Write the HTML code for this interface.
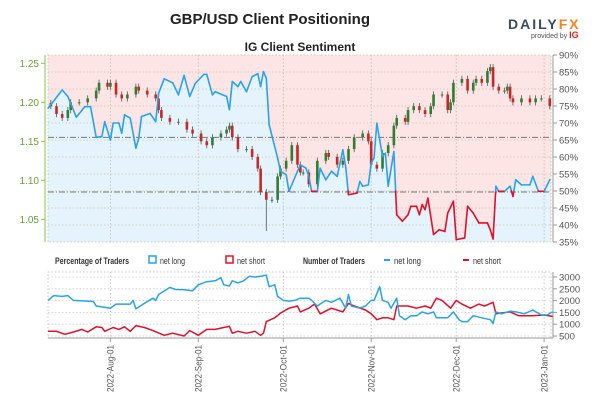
<!DOCTYPE html>
<html><head><meta charset="utf-8"><style>
html,body{margin:0;padding:0;background:#fff;}
svg{display:block;font-family:"Liberation Sans",sans-serif;}
</style></head><body>
<svg id="c" width="602" height="401" viewBox="0 0 602 401" xmlns="http://www.w3.org/2000/svg">
<text x="270" y="24" text-anchor="middle" font-size="15" font-weight="bold" fill="#222">GBP/USD Client Positioning</text>
<text x="300" y="51" text-anchor="middle" font-size="12" font-weight="bold" fill="#222">IG Client Sentiment</text>
<g>
<text x="508" y="29" font-size="14" font-weight="bold" letter-spacing="2" fill="#3c4a5a">DAILY<tspan fill="#f58220">FX</tspan></text>
<text x="531" y="38" font-size="7" fill="#555">provided by <tspan fill="#e2231a" font-weight="bold" font-size="9">IG</tspan></text>
</g>
<g id="main"></g>
<g id="count"></g>
<g font-size="9" fill="#333">
<text x="55" y="264" font-weight="bold" textLength="74" lengthAdjust="spacingAndGlyphs">Percentage of Traders</text>
<rect x="149" y="256" width="7" height="7" fill="#fff" stroke="#29a3e8" stroke-width="1.5"/>
<text x="160" y="264" textLength="25" lengthAdjust="spacingAndGlyphs">net long</text>
<rect x="226" y="256" width="7" height="7" fill="#fff" stroke="#e0102a" stroke-width="1.5"/>
<text x="237" y="264" textLength="28" lengthAdjust="spacingAndGlyphs">net short</text>
<text x="303" y="264" font-weight="bold" textLength="62" lengthAdjust="spacingAndGlyphs">Number of Traders</text>
<line x1="384" y1="260" x2="390" y2="260" stroke="#29a3e8" stroke-width="2"/>
<text x="394" y="264" textLength="27" lengthAdjust="spacingAndGlyphs">net long</text>
<line x1="463" y1="260" x2="469" y2="260" stroke="#e0102a" stroke-width="2"/>
<text x="473" y="264" textLength="28" lengthAdjust="spacingAndGlyphs">net short</text>
</g>
</svg>
<script>
// ---- data (x values = days since 2022-07-10) ----
const candleDays=[1,3,5,7,8,11,14,17,18,21,22,24,26,28,31,32,35,38,39,40,43,46,49,51,54,56,58,61,63,64,65,67,70,72,74,75,77,79,81,82,84,86,88,89,90,92,95,98,99,102,104,106,108,111,113,114,116,118,120,122,123,126,127,129,131,133,135,136,139,141,142,143,146,148,150,151,153,155,156,157,159,161,162,163,164,167,170,172,174,177];
const candleClose=[1.195,1.185,1.18,1.19,1.20,1.20,1.205,1.215,1.225,1.22,1.225,1.21,1.205,1.21,1.22,1.215,1.21,1.205,1.19,1.18,1.175,1.175,1.165,1.16,1.15,1.145,1.155,1.16,1.165,1.17,1.155,1.14,1.14,1.13,1.115,1.085,1.075,1.075,1.105,1.115,1.125,1.145,1.12,1.11,1.11,1.095,1.125,1.135,1.13,1.12,1.125,1.14,1.155,1.16,1.15,1.12,1.115,1.135,1.145,1.17,1.18,1.175,1.19,1.195,1.19,1.185,1.195,1.21,1.21,1.19,1.20,1.225,1.23,1.215,1.225,1.23,1.225,1.24,1.245,1.22,1.215,1.215,1.22,1.205,1.20,1.205,1.20,1.205,1.205,1.195];
const sentDays=[0,5,7,10,13,15,17,19,20,22,23,25,26,27,29,31,32,33,36,38,39,41,44,46,48,50,52,55,56,58,59,63,64,65,67,68,70,72,74,75,76,77,78,81,82,84,85,88,89,91,92,93,95,96,98,100,102,104,105,106,109,110,111,113,114,115,116,118,119,120,122,123,125,127,128,130,131,132,133,134,136,138,140,141,143,144,147,148,150,152,155,156,157,158,159,161,163,164,165,167,170,171,173,175,177];
const sentLong=[74.3,79.7,77.8,71.7,74.8,74.8,65.8,66,70.4,65,70,70,67,72.4,71.4,62.6,65.5,71.9,72.8,70.4,78.7,83,81.8,78.3,84,77.8,81.7,84.3,84.3,78.3,79.2,77.8,73.9,82.2,80.7,82.2,79.2,83.6,84.5,80.7,85.1,83.2,69.5,59.7,55.8,54.8,49.9,55.8,57.7,56.7,54.3,49.9,49.9,56.7,53.3,55.8,54.3,62.1,57.2,48.9,49.4,52.8,51.4,51.8,58.2,59.7,69.9,60.2,61.1,51.4,61.6,43,41.1,43,45.5,45.5,43,46,44.5,47.9,37.2,38.6,38.1,43.5,47,35.7,36.2,45.5,43.5,40.6,40.6,38.6,35.9,51.4,49.9,49.9,51.4,48.4,53.3,51.8,51.8,54.3,49.9,49.9,53.3];
const longDays=[0,2,5,7,9,16,17,22,24,29,30,31,34,37,38,39,43,45,48,51,53,56,59,61,62,64,65,67,69,71,73,75,77,78,80,81,83,85,87,89,92,93,95,98,100,103,105,106,107,110,112,114,115,117,118,120,121,123,124,126,128,130,132,134,136,137,141,143,145,146,148,150,153,156,157,158,160,163,165,168,171,174,176,178];
const longCount=[2010,2210,2180,2210,2010,1960,1770,1680,1850,1850,2010,1650,1880,2100,2010,2260,2560,2470,2460,2420,2670,2800,2840,2970,2670,2620,2840,2750,2840,3030,3000,3030,3080,2590,2670,2180,2010,1980,2010,2100,2100,2010,1770,2010,1930,2100,1680,2260,1770,1680,1770,2010,2010,2590,2010,1930,1680,2100,1360,1190,1360,1360,1520,1440,1520,1270,1270,1520,1190,1110,1110,1360,1270,1190,1030,1520,1440,1550,1520,1440,1600,1390,1390,1520];
const shortDays=[0,3,6,9,12,14,17,19,20,23,25,27,29,31,34,37,41,44,48,50,53,56,59,62,64,65,67,70,73,75,76,77,80,82,85,88,89,92,94,96,100,104,106,108,112,114,116,118,120,122,123,127,130,133,135,137,139,142,144,146,149,152,154,157,158,163,166,171,175,178];
const shortCount=[700,700,570,670,780,670,890,860,700,860,780,890,700,940,860,730,530,620,500,730,530,780,780,860,910,620,700,620,700,530,620,1110,1270,1470,1680,1770,1520,1680,1850,1440,1680,1520,1880,1770,1600,1440,1190,1270,1270,1190,1770,1770,1680,1770,1680,2100,2010,1680,2010,1850,1680,1850,1770,1930,1440,1520,1360,1360,1390,1330];
const priceTicks=[1.05,1.10,1.15,1.20,1.25];
const pctTicks=[35,40,45,50,55,60,65,70,75,80,85,90];
const countTicks=[500,1000,1500,2000,2500,3000];
const monthDays=[22,53,83,114,144,175];
const monthLabels=["2022-Aug-01","2022-Sep-01","2022-Oct-01","2022-Nov-01","2022-Dec-01","2023-Jan-01"];
const refPrices=[1.155,1.085];

// ---- scales ----
const X0=48,X1=551;
const xS=d=>X0+d*2.835;
const yP=p=>63.3+(1.25-p)*780;
const yPct=v=>55+(90-v)*3.4;
const yC=v=>277+(3000-v)*11.8/500;
const NS="http://www.w3.org/2000/svg";
function mk(parent,tag,attrs){const e=document.createElementNS(NS,tag);for(const k in attrs)e.setAttribute(k,attrs[k]);parent.appendChild(e);return e;}
const main=document.getElementById('main'),cnt=document.getElementById('count');
const PT=55,PB=242;

let bg=mk(main,'rect',{x:X0,y:PT,width:X1-X0,height:PB-PT,fill:'#fde4e5'});


let area='M'+xS(sentDays[0])+','+PB;
sentDays.forEach((d,i)=>area+=' L'+xS(d).toFixed(1)+','+yPct(sentLong[i]).toFixed(1));
area+=' L'+xS(sentDays[sentDays.length-1])+','+PB+' Z';
let ar=mk(main,'path',{d:area,fill:'#e4f3fc'});



pctTicks.forEach(t=>{if(t===35||t===90)return;const y=yPct(t);mk(main,'line',{x1:X0,x2:X1,y1:y,y2:y,stroke:'#c8c8b0','stroke-width':0.8,'stroke-dasharray':'1.5,2'});});
monthDays.forEach(d=>{const x=xS(d);mk(main,'line',{x1:x,x2:x,y1:PT,y2:PB,stroke:'#bbb','stroke-width':0.8,'stroke-dasharray':'1.5,2'});});
mk(main,'rect',{x:X0,y:PT,width:X1-X0,height:PB-PT,fill:'none',stroke:'#b8c8a0','stroke-width':0.8,'stroke-dasharray':'1.5,2'});
refPrices.forEach((p,i)=>{const y=yP(p);let l=mk(main,'line',{x1:X0,x2:X1,y1:y,y2:y,stroke:'#777','stroke-width':1,'stroke-dasharray':'6,2,1,2'});

});

candleDays.forEach((d,i)=>{
  const c=candleClose[i], o=i?candleClose[i-1]:c+0.004;
  const hi=Math.max(o,c)+0.004, lo=(d===77?1.035:Math.min(o,c)-0.004);
  const x=xS(d), up=c>=o;
  const g=mk(main,'g',{});
  
  
  mk(g,'line',{x1:x,x2:x,y1:yP(hi),y2:yP(lo),stroke:'#555','stroke-width':0.8});
  const yt=yP(Math.max(o,c)), yb=yP(Math.min(o,c));
  mk(g,'rect',{x:x-1.3,y:yt,width:2.6,height:Math.max(1,yb-yt),fill:up?'#2e7d32':'#c62828'});
});

for(let i=1;i<sentDays.length;i++){
  const a=sentLong[i-1],b=sentLong[i];
  const x1=xS(sentDays[i-1]),x2=xS(sentDays[i]);
  const pts=[[x1,a]];
  if((a-50)*(b-50)<0){const t=(50-a)/(b-a);pts.push([x1+(x2-x1)*t,50]);}
  pts.push([x2,b]);
  for(let k=1;k<pts.length;k++){
    const m=(pts[k-1][1]+pts[k][1])/2;
    let s=mk(main,'line',{x1:pts[k-1][0],y1:yPct(pts[k-1][1]),x2:pts[k][0],y2:yPct(pts[k][1]),stroke:m>=50?'#29a3e8':'#e0102a','stroke-width':1.6,'stroke-linecap':'round'});
    
    
  }
}

mk(main,'line',{x1:45,x2:45,y1:PT,y2:PB,stroke:'#8bc34a','stroke-width':1});
priceTicks.forEach(t=>{const y=yP(t);mk(main,'line',{x1:41,x2:45,y1:y,y2:y,stroke:'#8bc34a'});
let tx=mk(main,'text',{x:39,y:y+3.5,'text-anchor':'end','font-size':10,fill:'#6a9f3a'});tx.textContent=t.toFixed(2);

});
mk(main,'line',{x1:553,x2:553,y1:PT,y2:PB,stroke:'#999'});
pctTicks.forEach(t=>{const y=yPct(t);mk(main,'line',{x1:553,x2:557,y1:y,y2:y,stroke:'#999'});
let tx=mk(main,'text',{x:559,y:y+3.5,'font-size':9.5,fill:'#555'});tx.textContent=t+'%';

});

const CT=272,CB=338;
mk(cnt,'rect',{x:X0,y:CT,width:X1-X0,height:CB-CT,fill:'none',stroke:'#bbb','stroke-width':0.8,'stroke-dasharray':'1.5,2'});
countTicks.forEach(t=>{const y=yC(t);mk(cnt,'line',{x1:X0,x2:X1,y1:y,y2:y,stroke:'#ccc','stroke-width':0.8,'stroke-dasharray':'1.5,2'});});
monthDays.forEach((d,i)=>{const x=xS(d);mk(cnt,'line',{x1:x,x2:x,y1:CT,y2:CB,stroke:'#bbb','stroke-width':0.8,'stroke-dasharray':'1.5,2'});
mk(cnt,'line',{x1:x,x2:x,y1:CB,y2:CB+4,stroke:'#999'});
let tx=mk(cnt,'text',{x:0,y:0,'text-anchor':'end','font-size':9,fill:'#555',textLength:47,lengthAdjust:'spacingAndGlyphs',transform:'translate('+(x+3.2)+','+(CB+7)+') rotate(-90)'});tx.textContent=monthLabels[i];

});
mk(cnt,'line',{x1:X0,x2:X1+2,y1:CB,y2:CB,stroke:'#999'});
mk(cnt,'line',{x1:553,x2:553,y1:CT,y2:CB,stroke:'#999'});
countTicks.forEach(t=>{const y=yC(t);mk(cnt,'line',{x1:553,x2:557,y1:y,y2:y,stroke:'#999'});
let tx=mk(cnt,'text',{x:559,y:y+3.5,'font-size':9.5,fill:'#555'});tx.textContent=t;

});
function poly(days,vals,col,name){
  const p=days.map((d,i)=>xS(d).toFixed(1)+','+yC(vals[i]).toFixed(1)).join(' ');
  const l=mk(cnt,'polyline',{points:p,fill:'none',stroke:col,'stroke-width':1.5,'stroke-linejoin':'round'});
  
  
}
poly(shortDays,shortCount,'#e0102a','net-short-count-line');
poly(longDays,longCount,'#29a3e8','net-long-count-line');
</script>
</body></html>
